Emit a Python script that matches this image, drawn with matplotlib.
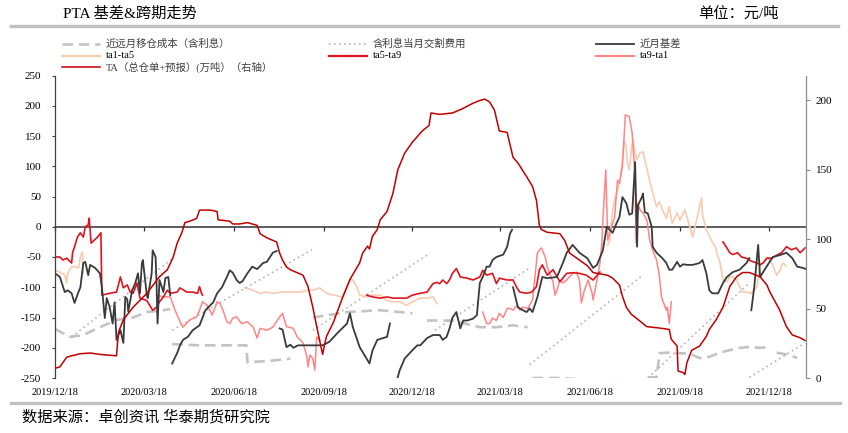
import numpy as np
import pandas as pd
import matplotlib
matplotlib.use('Agg')
import matplotlib.pyplot as plt
import matplotlib.dates as mdates
from matplotlib.lines import Line2D

plt.rcParams['font.family'] = ['Liberation Serif', 'Noto Sans CJK SC']
plt.rcParams['axes.unicode_minus'] = False

# ---------------- data (day offset from start date, value) ----------------
start_date = '2019-12-18'
end_date = '2022-01-25'
tick_dates = ['2019-12-18', '2020-03-18', '2020-06-18', '2020-09-18', '2020-12-18',
              '2021-03-18', '2021-06-18', '2021-09-18', '2021-12-18']
left_ticks = [250, 200, 150, 100, 50, 0, -50, -100, -150, -200, -250]
right_ticks = [0, 50, 100, 150, 200]

# 近远月移仓成本（含利息） dashed segments
roll_cost = [
    [(0, -169), (15, -182), (29, -179), (46, -166), (63, -154), (80, -150), (94, -141), (111, -138), (118, -136)],
    [(120, -194), (148, -196), (192, -196), (196, -196), (197, -224), (217, -222), (230, -220), (241, -218)],
    [(264, -150), (299, -141), (333, -138), (366, -143)],
    [(381, -155), (407, -155), (435, -166), (452, -166), (469, -163), (484, -166)],
    [(489, -250), (517, -250), (534, -252), (551, -253), (568, -252), (580, -252)],
    [(607, -249), (616, -249), (619, -209), (629, -208), (650, -210), (660, -217), (670, -215),
     (681, -208), (698, -201), (708, -199), (722, -200), (732, -199)],
    [(739, -208), (752, -212), (760, -217)],
]

# 含利息当月交割费用 dotted segments
delivery_cost = [
    [(17, -182), (121, -52)],
    [(120, -171), (263, -38)],
    [(264, -171), (381, -47)],
    [(389, -171), (486, -68)],
    [(486, -228), (602, -80)],
    [(607, -250), (711, -93)],
    [(711, -249), (768, -192)],
]

# 近月基差
basis = [
    [(0, -77), (5, -83), (7, -93), (10, -108), (13, -105), (17, -110), (20, -126), (24, -108), (26, -100),
     (29, -60), (31, -58), (34, -80), (36, -63), (41, -68), (46, -77), (48, -100), (51, -151), (53, -118),
     (56, -133), (59, -160), (61, -125), (63, -187), (67, -171), (70, -192), (72, -116), (74, -120),
     (75, -140), (79, -105), (82, -94), (85, -77), (87, -110), (89, -60), (90, -55), (94, -113), (95, -118),
     (99, -77), (100, -39), (103, -50), (104, -95), (105, -160), (107, -88), (111, -108), (113, -85),
     (116, -83), (118, -113)],
    [(120, -226), (125, -209), (128, -196), (131, -187), (136, -182), (141, -171), (148, -163), (154, -138),
     (157, -133), (162, -125), (166, -110), (171, -100), (176, -83), (179, -72), (182, -76), (186, -88),
     (189, -93), (192, -90), (197, -77), (202, -66), (207, -70), (213, -60), (217, -58), (223, -43),
     (227, -40)],
    [(230, -168), (233, -170), (237, -199), (241, -195), (244, -200), (249, -196), (254, -196), (264, -196),
     (274, -196), (281, -190), (289, -176), (299, -160), (302, -143), (305, -166), (312, -199), (322, -226),
     (325, -205), (330, -187), (336, -184), (340, -182), (343, -160)],
    [(350, -254), (353, -237), (358, -218), (366, -204), (371, -196), (374, -196), (381, -184), (387, -179),
     (394, -179), (397, -187), (401, -182), (404, -168), (407, -150), (411, -141), (415, -168), (418, -155),
     (422, -155), (428, -152), (432, -146), (435, -93), (438, -83), (442, -66), (445, -66), (448, -55),
     (452, -50), (459, -46), (463, -33), (466, -11), (468, -5)],
    [(469, -100), (474, -133), (479, -138), (483, -141), (486, -135), (489, -141), (494, -116), (499, -83),
     (504, -85), (514, -83), (520, -60), (524, -43), (530, -30), (537, -43), (545, -52), (551, -68),
     (555, -63), (561, -39), (565, 0), (568, -5), (571, -10), (575, 6), (578, 16), (581, 49), (585, 39),
     (588, 20), (591, 22), (594, 107), (596, -33), (597, 36), (601, 49), (602, 55), (604, 24), (607, 22),
     (611, 0), (612, -33), (616, -43), (622, -52), (626, -60), (629, -71), (632, -71), (637, -58),
     (640, -66), (643, -62), (647, -63), (653, -63), (660, -60), (663, -55), (667, -77), (670, -105),
     (673, -110), (679, -110), (684, -93), (688, -83), (694, -75), (701, -71), (708, -60), (711, -52)],
    [(713, -138), (716, -100), (720, -30), (722, -83), (727, -70), (735, -50), (742, -47), (749, -43),
     (755, -52), (760, -66), (766, -68), (769, -70)],
]

# ta1-ta5
ta1_ta5 = [
    [(0, -72), (5, -75), (10, -80), (12, -93), (13, -77), (17, -66), (20, -66), (24, -68), (26, -50),
     (28, -42), (29, -77)],
    [(194, -101), (203, -105), (210, -110), (217, -108), (223, -110), (233, -108), (244, -108), (251, -108),
     (258, -105), (264, -105), (271, -101), (278, -110), (285, -113), (295, -116), (299, -101), (302, -88),
     (305, -88), (309, -99), (312, -113), (319, -116), (325, -113), (333, -113), (340, -122), (346, -124),
     (353, -124), (360, -130), (366, -124), (374, -118), (381, -118), (387, -116), (391, -127)],
    [(566, -30), (568, -22), (571, 28), (573, 44), (576, 61), (578, 72), (581, 111), (583, 141), (585, 132),
     (586, 106), (588, 94), (591, 139), (592, 144), (594, 122), (596, 111), (599, 122), (602, 124),
     (604, 111), (607, 89), (612, 56), (616, 33), (619, 41), (622, 28), (626, 14), (629, 33), (632, 6),
     (637, 23), (640, 11), (645, 28), (650, 0), (653, -17), (657, 11), (662, 48), (663, 20), (667, -5),
     (672, -22), (676, -33), (681, -60), (684, -88), (688, -91), (691, -83), (694, -83), (698, -88),
     (701, -99), (704, -108), (708, -108), (713, -110), (719, -99), (722, -60), (725, -60), (729, -50),
     (734, -60), (739, -80), (742, -73), (745, -60), (749, -65)],
]

# ta5-ta9
ta5_ta9 = [
    [(0, -50), (5, -50), (8, -55), (12, -52), (17, -60), (18, -43), (20, -33), (23, -17), (26, -10),
     (29, -17), (31, 0), (34, 3), (35, 14), (37, -27), (43, -18), (47, -10), (48, -113), (56, -110),
     (63, -108), (67, -83), (70, -101), (74, -96), (77, -108), (80, -110), (84, -93), (87, -118),
     (94, -122), (97, -130), (100, -138), (104, -133), (107, -124), (111, -116), (115, -105), (118, -110),
     (125, -108), (128, -101), (135, -108), (141, -108), (146, -110), (148, -99), (150, -110), (151, -113)],
    [(319, -113), (325, -116), (333, -118), (340, -116), (346, -118), (353, -118), (360, -118), (366, -113),
     (374, -110), (381, -108), (387, -94), (391, -92), (394, -94), (397, -88), (401, -94), (404, -88),
     (407, -77), (411, -69), (415, -83), (422, -85), (428, -88), (435, -83), (438, -72), (442, -80),
     (448, -77), (452, -94), (455, -85), (463, -88), (469, -88), (473, -101), (476, -108), (483, -110),
     (488, -108), (493, -99), (496, -71), (499, -63), (504, -80), (510, -71), (517, -91), (524, -77),
     (530, -76), (537, -77), (544, -80), (551, -88), (558, -75)],
    [(684, -25), (688, -35), (691, -43), (694, -46), (699, -43), (703, -50), (708, -52), (713, -57),
     (719, -60), (722, -63), (725, -60), (729, -52), (734, -52), (739, -47), (744, -43), (749, -33),
     (754, -38), (759, -35), (763, -43), (768, -35)],
]

# ta9-ta1
ta9_ta1 = [
    [(104, -113), (111, -116), (118, -116), (123, -138), (128, -157), (131, -166), (138, -154), (145, -149),
     (148, -138), (151, -124), (156, -130), (161, -146), (166, -124), (169, -127), (172, -138), (176, -157),
     (179, -160), (182, -151), (186, -149), (191, -160), (197, -157), (203, -166), (207, -184), (210, -168),
     (217, -171), (223, -166), (230, -149), (233, -143), (237, -165), (244, -168), (248, -182), (254, -192),
     (258, -215), (259, -232), (261, -212), (264, -218), (266, -237), (268, -182), (271, -188)],
    [(438, -141), (442, -160), (445, -160), (448, -151), (452, -155), (455, -143), (459, -150), (463, -135),
     (466, -135), (469, -138), (473, -130), (476, -138), (479, -133), (484, -135), (489, -121), (494, -43),
     (498, -35), (502, -50), (504, -66), (507, -80), (510, -91), (512, -113), (514, -105), (517, -88),
     (520, -93), (524, -88), (530, -77), (534, -75), (537, -88), (539, -126), (542, -105), (546, -88),
     (550, -110), (551, -121), (555, -88), (558, -60), (560, -27), (561, 11), (564, 94), (566, -22),
     (570, 0), (573, 16), (576, 77), (578, 72), (581, 99), (584, 185), (588, 182), (591, 155), (594, 83),
     (595, -27), (597, 39), (599, 28), (602, 23), (606, 11), (609, -22), (612, -39), (616, -55), (619, -83),
     (621, -116), (622, -121), (626, -138), (627, -133), (629, -160), (631, -124)],
]

# TA（总仓单+预报）(万吨) right axis
ta_stock = [
    (0, 7), (5, 8), (8, 11), (12, 15), (17, 16), (26, 17.5), (36, 18), (46, 17), (63, 16), (64, 25), (65, 33),
    (70, 42), (80, 51), (94, 61), (107, 73), (115, 78), (121, 87), (125, 97), (130, 105), (133, 112),
    (138, 113), (145, 115), (148, 121), (159, 121), (166, 120), (167, 114), (179, 113), (182, 111),
    (189, 111), (197, 112), (207, 110), (210, 104), (217, 101), (227, 98), (230, 90), (233, 85), (237, 80),
    (241, 78), (251, 75), (254, 74), (259, 66), (264, 51), (268, 37), (271, 27), (274, 17), (276, 24),
    (278, 30), (285, 40), (295, 59), (302, 71), (312, 83), (315, 90), (320, 95), (322, 93), (325, 102),
    (330, 107), (333, 114), (340, 120), (346, 133), (351, 150), (358, 162), (366, 170), (376, 178),
    (383, 182), (385, 191), (394, 190), (407, 191), (417, 194), (428, 198), (435, 200), (440, 201),
    (445, 199), (450, 193), (455, 178), (463, 177), (469, 159), (474, 155), (483, 145), (489, 138),
    (493, 128), (496, 110), (498, 107), (504, 105), (517, 104), (522, 99), (527, 90), (537, 85), (545, 81),
    (551, 76), (566, 74), (571, 72), (578, 67), (581, 59), (585, 51), (590, 46), (599, 41), (606, 37),
    (619, 36), (629, 35), (631, 28), (637, 23), (638, 5), (643, 4), (645, 2.5), (647, 11), (652, 20),
    (660, 23), (667, 30), (670, 35), (677, 42), (684, 51), (691, 66), (698, 73), (704, 76), (711, 76),
    (722, 73), (729, 67), (732, 62), (742, 49), (749, 37), (755, 31), (763, 29), (768, 27),
]

labels = ['近远月移仓成本（含利息）', '含利息当月交割费用', '近月基差',
          'ta1-ta5', 'ta5-ta9', 'ta9-ta1', 'TA（总仓单+预报）(万吨）（右轴）']

# ---------------- styles ----------------
W, H = 848, 433
start = pd.Timestamp(start_date)
styles = {
    'roll': dict(color='#c3c3c3', lw=1.9, ls=(0, (4, 2.2))),
    'deliv': dict(color='#b4b4b4', lw=1.2, ls=(0, (1, 2.0))),
    'basis': dict(color='#3a3a3a', lw=1.3, ls='-'),
    't15': dict(color='#f9cbb0', lw=1.2, ls='-'),
    't59': dict(color='#e0141e', lw=1.2, ls='-'),
    't91': dict(color='#ff8587', lw=1.1, ls='-'),
    'ta': dict(color='#c00000', lw=1.1, ls='-'),
}


def xy(seg):
    d = start + pd.to_timedelta([p[0] for p in seg], unit='D')
    return d, [p[1] for p in seg]


fig = plt.figure(figsize=(W / 100, H / 100), dpi=100)
ax = fig.add_axes([55 / W, 1 - 378 / H, (806 - 55) / W, (378 - 75.5) / H])
ax2 = ax.twinx()

for key, series in [('roll', roll_cost), ('deliv', delivery_cost), ('t15', ta1_ta5),
                    ('t91', ta9_ta1), ('t59', ta5_ta9), ('basis', basis)]:
    st = styles[key]
    for seg in series:
        d, v = xy(seg)
        ax.plot(d, v, color=st['color'], lw=st['lw'], ls=st['ls'], solid_joinstyle='round')

d, v = xy(ta_stock)
ax2.plot(d, v, color=styles['ta']['color'], lw=styles['ta']['lw'])

xmin, xmax = pd.Timestamp(start_date), pd.Timestamp(end_date)
ax.set_xlim(xmin, xmax)
ax.set_ylim(-250, 250)
ax2.set_ylim(0, 218)

tks = [pd.Timestamp(t) for t in tick_dates]
ax.set_xticks(tks)
ax.set_xticklabels([t.strftime('%Y/%m/%d') for t in tks], fontsize=7.5)
ax.tick_params(axis='x', length=0, pad=7)
ax.set_yticks(left_ticks)
ax.set_yticklabels([str(t) for t in left_ticks], fontsize=8)
ax.tick_params(axis='y', length=2, pad=8, color='#404040')

for s in ['top', 'right', 'bottom']:
    ax.spines[s].set_visible(False)
ax.spines['left'].set_color('#404040')
ax.spines['left'].set_linewidth(0.9)

for s in ['top', 'left', 'bottom']:
    ax2.spines[s].set_visible(False)
ax2.spines['right'].set_color('#8c8c8c')
ax2.spines['right'].set_linewidth(0.9)
ax2.set_yticks(right_ticks)
ax2.set_yticklabels([str(t) for t in right_ticks], fontsize=8)
ax2.tick_params(axis='y', length=3, pad=4, color='#8c8c8c')

# zero line with ticks
sec = ax.secondary_xaxis(0.5)
sec.set_xticks(mdates.date2num(tks))
sec.tick_params(direction='in', length=3, labeltop=False, labelbottom=False, color='#303030', width=0.9)
for s in ['top', 'bottom']:
    sec.spines[s].set_color('#303030')
    sec.spines[s].set_linewidth(1.1)

# ---------------- legend (manual) ----------------
leg_keys = ['roll', 'deliv', 'basis', 't15', 't59', 't91', 'ta']
col_x = [62, 329, 596]
row_y = [44, 56, 67]
for i, (key, lab) in enumerate(zip(leg_keys, labels)):
    c, r = i % 3, i // 3
    x0, y0 = col_x[c], row_y[r]
    st = styles[key]
    lw = st['lw'] + (0.4 if key in ('t15', 't59', 't91') else 0)
    fig.add_artist(Line2D([x0 / W, (x0 + 38) / W], [1 - y0 / H] * 2, transform=fig.transFigure,
                          color=st['color'], lw=lw, ls=st['ls']))
    is_latin = lab.startswith('ta')
    fig.text((x0 + 44) / W, 1 - y0 / H, lab, fontsize=7.5, va='center', ha='left',
             color='#000000' if is_latin else '#404040')

# ---------------- titles and frame ----------------
fig.text(63 / W, 1 - 14 / H, 'PTA 基差&跨期走势', fontsize=11, va='center', ha='left', color='#000000')
fig.text(698 / W, 1 - 14 / H, '单位：元/吨', fontsize=11, va='center', ha='left', color='#000000')
fig.text(22 / W, 1 - 417 / H, '数据来源：卓创资讯 华泰期货研究院', fontsize=11, va='center', ha='left',
         color='#000000')
fig.add_artist(Line2D([11 / W, 838 / W], [1 - 26 / H] * 2, transform=fig.transFigure, color='#c0c0c0', lw=2.4))
fig.add_artist(Line2D([11 / W, 840 / W], [1 - 403 / H] * 2, transform=fig.transFigure, color='#c0c0c0', lw=2.4))

fig.savefig('out.png', dpi=100)
